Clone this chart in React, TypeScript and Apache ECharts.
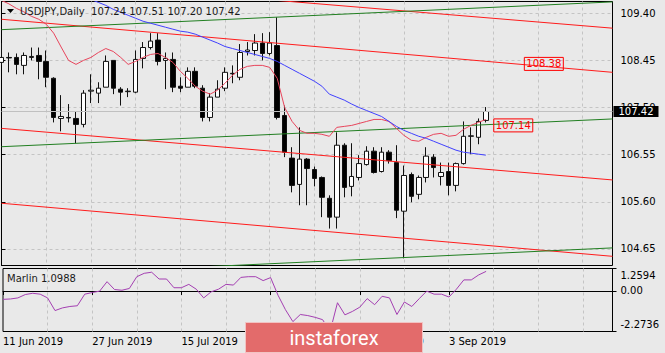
import React, { useEffect, useRef } from "react";
import * as echarts from "echarts";

const FONT = "DejaVu Sans";

const dayLabels = [
  "11 Jun","12 Jun","13 Jun","14 Jun","17 Jun","18 Jun","19 Jun","20 Jun","21 Jun","24 Jun","25 Jun","26 Jun","27 Jun","28 Jun",
  "1 Jul","2 Jul","3 Jul","4 Jul","5 Jul","8 Jul","9 Jul","10 Jul","11 Jul","12 Jul","15 Jul","16 Jul","17 Jul","18 Jul","19 Jul","22 Jul","23 Jul","24 Jul","25 Jul","26 Jul","29 Jul","30 Jul","31 Jul",
  "1 Aug","2 Aug","5 Aug","6 Aug","7 Aug","8 Aug","9 Aug","12 Aug","13 Aug","14 Aug","15 Aug","16 Aug","19 Aug","20 Aug","21 Aug","22 Aug","23 Aug","26 Aug","27 Aug","28 Aug","29 Aug","30 Aug",
  "2 Sep","3 Sep","4 Sep","5 Sep","6 Sep","9 Sep","10 Sep","11 Sep","12 Sep","13 Sep","16 Sep","17 Sep","18 Sep","19 Sep","20 Sep","23 Sep","24 Sep","25 Sep","26 Sep","27 Sep","30 Sep",
  "1 Oct","2 Oct","3 Oct",
];
const dates = dayLabels.map((d) => `${d} 2019`);

const opens = [
  108.41,108.51,108.51,108.35,108.51,108.55,108.43,108.09,107.28,107.30,
  107.28,107.16,107.83,107.79,107.91,108.45,107.87,107.82,107.81,108.49,
  108.71,108.86,108.45,108.47,107.93,107.91,108.23,107.89,107.30,107.71,
  107.89,108.19,108.11,108.63,108.65,108.80,108.59,108.75,107.34,106.48,
  105.95,106.46,106.25,106.09,105.67,105.29,106.74,105.91,106.09,106.35,
  106.62,106.21,106.60,106.39,105.41,106.15,105.75,106.09,106.50,106.11,
  106.21,105.93,106.37,106.92,106.90,107.24,
];
const closes = [
  108.51,108.50,108.37,108.55,108.53,108.43,108.11,107.30,107.32,107.29,
  107.16,107.79,107.85,107.89,108.43,107.89,107.81,107.83,108.47,108.71,
  108.84,108.43,108.49,107.91,107.89,108.23,107.93,107.30,107.71,107.87,
  108.21,108.18,108.61,108.66,108.80,108.59,108.80,107.30,106.60,105.93,
  106.46,106.27,106.07,105.69,105.29,106.74,105.89,106.11,106.37,106.62,
  106.19,106.60,106.43,105.43,106.13,105.71,106.09,106.52,106.29,106.19,
  105.93,106.37,106.92,106.93,107.22,107.42,
];
const lows = [
  108.35,108.21,108.17,108.17,108.45,108.07,107.91,107.20,107.02,107.20,
  106.78,107.10,107.59,107.59,107.91,107.77,107.54,107.71,107.79,108.29,
  108.67,108.35,107.87,107.81,107.81,107.91,107.89,107.22,107.22,107.71,
  107.83,107.99,108.05,108.55,108.55,108.45,108.55,107.26,106.50,105.79,
  105.53,105.53,105.91,105.29,105.06,105.06,105.69,105.71,106.03,106.33,
  106.17,106.19,106.37,105.27,104.46,105.59,105.65,105.99,106.09,105.93,
  105.73,105.81,106.35,106.56,106.76,107.20,
];
const highs = [
  108.80,108.61,108.59,108.61,108.71,108.71,108.65,108.11,107.75,107.57,
  107.42,107.85,108.17,108.01,108.55,108.45,107.91,107.89,108.65,108.82,
  109.00,109.00,108.61,108.61,108.11,108.31,108.31,107.95,107.79,108.05,
  108.31,108.35,108.78,108.82,108.98,109.00,109.02,109.32,107.54,106.70,
  107.10,106.48,106.31,106.11,105.73,107.00,106.78,106.78,106.54,106.72,
  106.70,106.70,106.64,106.74,106.33,106.19,106.13,106.70,106.56,106.39,
  106.39,106.39,107.22,107.10,107.28,107.51,
];

const maFast = [
  109.66,109.59,109.50,109.43,109.34,109.28,109.18,109.00,108.72,108.45,
  108.37,108.45,108.51,108.61,108.69,108.63,108.51,108.37,108.43,108.51,
  108.57,108.59,108.51,108.41,108.23,108.09,107.93,107.83,107.77,107.85,
  107.99,108.15,108.27,108.33,108.35,108.35,108.31,108.09,107.50,107.22,
  107.04,106.98,106.98,106.96,106.92,107.10,107.12,107.14,107.18,107.22,
  107.26,107.26,107.22,107.08,106.94,106.84,106.82,106.90,106.96,106.98,
  106.92,106.94,107.06,107.14,107.20,107.26,
];
const maSlow = [
  null,null,null,null,null,null,null,null,null,null,
  null,null,109.68,109.62,109.56,109.48,109.42,109.36,109.30,109.24,
  109.20,109.16,109.12,109.08,109.04,109.02,108.98,108.92,108.86,108.80,
  108.73,108.69,108.65,108.61,108.57,108.53,108.49,108.43,108.35,108.27,
  108.19,108.11,108.03,107.93,107.77,107.71,107.65,107.57,107.50,107.44,
  107.38,107.32,107.22,107.12,107.04,106.98,106.92,106.88,106.82,106.76,
  106.70,106.64,106.60,106.58,106.56,106.54,
];
const marlin = [
  -0.47,-0.45,-0.39,-0.20,-0.13,-0.18,-0.39,-1.10,-0.95,-0.87,
  -0.83,-0.18,-0.09,-0.01,0.52,0.08,0.04,0.14,0.80,0.99,
  1.05,0.67,0.67,0.18,0.18,0.37,0.10,-0.39,-0.05,0.10,
  0.37,0.33,0.76,0.80,0.80,0.58,0.75,-0.24,-1.05,-1.72,
  -1.32,-1.38,-1.48,-1.61,-2.2736,-0.66,-1.34,-1.15,-0.91,-0.43,
  -0.77,-0.30,-0.39,-1.32,-0.62,-0.87,-0.43,-0.01,-0.18,-0.18,
  -0.34,0.10,0.62,0.62,0.90,1.0988,
];

const priceTicks = [104.65, 105.6, 106.55, 107.5, 108.45, 109.4];
const marlinTicks = [-2.2736, 0, 1.2594];

// trend lines: [x-index, price] end points
const redTrends = [
  [[0, 110.12], [82, 109.10]],
  [[0, 109.28], [82, 108.21]],
  [[0, 107.08], [82, 106.04]],
  [[0, 105.57], [82, 104.5]],
];
const greenTrends = [
  [[0, 109.07], [82, 109.63]],
  [[0, 106.71], [82, 107.27]],
  [[0, 104.1], [82, 104.67]],
];
const priceTags = [
  { line: 1, x: 70.1, price: 108.38 },
];
const greenTags = [
  { line: 1, x: 66.0, price: 107.14 },
];

export default function App() {
  const ref = useRef<HTMLDivElement>(null);
  useEffect(() => {
    if (!ref.current) return;
    const chart = echarts.init(ref.current, null, { renderer: "svg" });
    const candles = opens.map((o, i) => [o, closes[i], lows[i], highs[i]]);
    const last = opens.length - 1;
    const lastClose = closes[last];
    const labelFont = { fontFamily: FONT, fontSize: 10, color: "#000" };
    const gridDash = { color: "#c4c4c4", type: [3, 3] as any, width: 1 };

    const tagLabel = (txt: string) => ({
      show: true,
      position: "right",
      distance: 0,
      formatter: txt,
      color: "#ff0000",
      fontFamily: FONT,
      fontSize: 10,
      borderColor: "#ff0000",
      borderWidth: 1,
      padding: [2, 2, 1, 2],
    });

    const trendSeries: any[] = [];
    redTrends.forEach((pts, k) => {
      const tag = priceTags.find((t) => t.line === k);
      trendSeries.push({
        type: "line",
        xAxisIndex: 1,
        yAxisIndex: 0,
        data: pts,
        symbol: "none",
        silent: true,
        z: 4,
        lineStyle: { color: "#ff1c1c", width: 1 },
        markPoint: tag
          ? {
              symbol: "rect",
              symbolSize: 1,
              itemStyle: { color: "rgba(0,0,0,0)" },
              label: tagLabel(tag.price.toFixed(2)),
              data: [{ coord: [tag.x, tag.price] }],
            }
          : undefined,
      });
    });
    greenTrends.forEach((pts, k) => {
      const tag = greenTags.find((t) => t.line === k);
      trendSeries.push({
        type: "line",
        xAxisIndex: 1,
        yAxisIndex: 0,
        data: pts,
        symbol: "none",
        silent: true,
        z: 4,
        lineStyle: { color: "#217f21", width: 1 },
        markPoint: tag
          ? {
              symbol: "rect",
              symbolSize: 1,
              itemStyle: { color: "rgba(0,0,0,0)" },
              label: tagLabel(tag.price.toFixed(2)),
              data: [{ coord: [tag.x, tag.price] }],
            }
          : undefined,
      });
    });

    const labelEvery = (i: number) => i % 12 === 0 && i <= last;
    const splitEvery = (i: number) => i % 6 === 0 && i > 0;

    chart.setOption({
      animation: false,
      backgroundColor: "#e9e9e9",
      title: [
        {
          text: `USDJPY,Daily  ${opens[last].toFixed(2)} ${highs[last].toFixed(2)} ${lows[last].toFixed(2)} ${closes[last].toFixed(2)}`,
          left: 20,
          top: 6,
          padding: 0,
          textStyle: { fontFamily: FONT, fontSize: 10, fontWeight: "normal", color: "#1a1a1a" },
        },
        {
          text: `Marlin ${marlin[last].toFixed(4)}`,
          left: 7,
          top: 273,
          padding: 0,
          textStyle: { fontFamily: FONT, fontSize: 10, fontWeight: "normal", color: "#1a1a1a" },
        },
      ],
      grid: [
        { left: 1.5, top: 1.5, width: 611, height: 264, show: true, borderColor: "#000", borderWidth: 1, backgroundColor: "transparent" },
        { left: 1.5, top: 268.5, width: 611, height: 63, show: true, borderColor: "#000", borderWidth: 1, backgroundColor: "transparent" },
      ],
      xAxis: [
        {
          type: "category",
          gridIndex: 0,
          data: dates,
          boundaryGap: false,
          axisLine: { show: false },
          axisTick: { show: false },
          axisLabel: { show: false },
          splitLine: { show: true, interval: splitEvery, lineStyle: gridDash },
        },
        { type: "value", gridIndex: 0, min: 0, max: 82, show: false },
        {
          type: "category",
          gridIndex: 1,
          data: dates,
          boundaryGap: false,
          axisLine: { show: true, lineStyle: { color: "#000", width: 1 } },
          axisTick: { show: true, interval: labelEvery, length: 4, lineStyle: { color: "#000" } },
          axisLabel: { show: true, interval: labelEvery, align: "left", margin: 5, ...labelFont },
          splitLine: { show: true, interval: splitEvery, lineStyle: gridDash },
        },
      ],
      yAxis: [
        {
          type: "value",
          gridIndex: 0,
          position: "right",
          min: 104.315,
          max: 109.638,
          axisLine: { show: true, lineStyle: { color: "#000" } },
          axisTick: { show: true, length: 4, customValues: priceTicks, lineStyle: { color: "#000" } },
          axisLabel: { show: true, customValues: priceTicks, margin: 8, formatter: (v: number) => v.toFixed(2), ...labelFont },
          splitLine: { show: true, lineStyle: gridDash },
        },
        {
          type: "value",
          gridIndex: 1,
          position: "right",
          min: -2.2736,
          max: 1.2594,
          axisLine: { show: true, lineStyle: { color: "#000" } },
          axisTick: { show: true, length: 4, customValues: marlinTicks, lineStyle: { color: "#000" } },
          axisLabel: {
            show: true,
            customValues: marlinTicks,
            margin: 8,
            ...labelFont,
            formatter: (v: number) =>
              v > 1 ? `{t|${v.toFixed(4)}}` : v < -1 ? `{b|${v.toFixed(4)}}` : `{n|${v.toFixed(2)}}`,
            rich: {
              t: { ...labelFont, padding: [14, 0, 0, 0] },
              b: { ...labelFont, padding: [0, 0, 14, 0] },
              n: { ...labelFont },
            },
          },
          splitLine: { show: true, lineStyle: { ...gridDash, color: ["rgba(0,0,0,0)", "#c4c4c4", "rgba(0,0,0,0)"] } },
        },
      ],
      series: [
        {
          type: "candlestick",
          xAxisIndex: 0,
          yAxisIndex: 0,
          data: candles,
          barWidth: 5,
          z: 3,
          itemStyle: { color: "#ffffff", color0: "#000000", borderColor: "#111", borderColor0: "#111", borderWidth: 1 },
          markLine: {
            silent: true,
            symbol: ["none", "none"],
            lineStyle: { color: "#c0c0c0", type: "solid", width: 1 },
            label: {
              show: true,
              position: "end",
              distance: 1,
              formatter: lastClose.toFixed(2),
              color: "#fff",
              backgroundColor: "#000",
              padding: [1, 5, 0, 5],
              fontFamily: FONT,
              fontSize: 10,
            },
            data: [{ yAxis: lastClose }],
          },
        },
        {
          type: "line",
          xAxisIndex: 0,
          yAxisIndex: 0,
          data: maFast,
          symbol: "none",
          z: 5,
          lineStyle: { color: "#e8455c", width: 1 },
        },
        {
          type: "line",
          xAxisIndex: 0,
          yAxisIndex: 0,
          data: maSlow,
          symbol: "none",
          z: 5,
          lineStyle: { color: "#4040ff", width: 1 },
        },
        ...trendSeries,
        {
          type: "line",
          xAxisIndex: 2,
          yAxisIndex: 1,
          data: marlin,
          symbol: "none",
          lineStyle: { color: "#a43fb2", width: 1 },
        },
      ],
      graphic: [
        {
          type: "polygon",
          z: 100,
          shape: { points: [[7, 9], [14, 9], [10.5, 13]] },
          style: { fill: "#000" },
        },
        {
          type: "group",
          z: 100,
          children: [
            {
              type: "rect",
              z: 100,
              shape: { x: 245.5, y: 322.5, width: 177, height: 30 },
              style: { fill: "#e36b6b", stroke: "#f2c3c3", lineWidth: 1 },
            },
            {
              type: "text",
              z: 101,
              style: {
                text: "instaforex",
                x: 334,
                y: 338,
                align: "center",
                verticalAlign: "middle",
                fill: "#ffffff",
                fontFamily: "Roboto",
                fontSize: 20,
              },
            },
          ],
        },
      ],
    });
    return () => chart.dispose();
  }, []);
  return <div ref={ref} style={{ position: "fixed", left: 0, top: 0, width: 665, height: 353 }} />;
}
